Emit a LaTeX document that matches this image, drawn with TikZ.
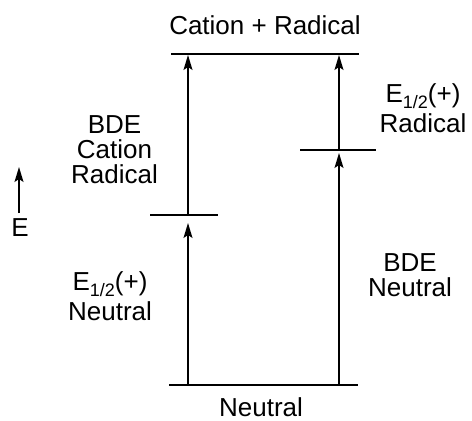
\documentclass[tikz,border=0pt]{standalone}
\usepackage{fontspec}
\setmainfont{Liberation Sans}
\usetikzlibrary{arrows.meta}
\newcommand\myhalf{\smash{\raisebox{-6.5pt}{\fontsize{18}{18}\selectfont 1/2}}}
\begin{document}
\begin{tikzpicture}[x=1pt,y=-1pt,
  level/.style={line width=1.4pt},
  uparrow/.style={line width=1.4pt,-{Stealth[length=15pt,width=9pt,inset=3pt]}},
  lbl/.style={font=\fontsize{26}{25}\selectfont, inner sep=0pt, align=center}]
\useasboundingbox (0,0) rectangle (472,421);
% levels
\coordinate (topL) at (171,54);   \coordinate (topR) at (359,54);
\coordinate (botL) at (169,385);  \coordinate (botR) at (358,385);
\coordinate (mlL) at (150,215);   \coordinate (mlR) at (218,215);
\coordinate (mrL) at (300,150);   \coordinate (mrR) at (376,150);
\draw[level] (topL) -- (topR);
\draw[level] (botL) -- (botR);
\draw[level] (mlL) -- (mlR);
\draw[level] (mrL) -- (mrR);
% arrow end points
\coordinate (a0) at (188,385); \coordinate (a1) at (188,223);
\coordinate (a2) at (188,215); \coordinate (a3) at (188,55);
\coordinate (b0) at (339,385); \coordinate (b1) at (339,153);
\coordinate (b2) at (339,150); \coordinate (b3) at (339,55);
\coordinate (e0) at (19,213); \coordinate (e1) at (19,167);
\draw[uparrow] (a0) -- (a1);
\draw[uparrow] (a2) -- (a3);
\draw[uparrow] (b0) -- (b1);
\draw[uparrow] (b2) -- (b3);
\draw[uparrow] (e0) -- (e1);
% labels
\node[lbl, anchor=base] (cr) at (265,34) {Cation + Radical};
\node[lbl, anchor=base] (nt) at (261,416) {Neutral};
\node[lbl, anchor=north] (bcr) at (114.5,115) {BDE\\Cation\\Radical};
\node[lbl, anchor=north] (en) at (110,271) {E\myhalf(+)\\[5pt]Neutral};
\node[lbl, anchor=north] (er) at (423,83) {E\myhalf(+)\\[5pt]Radical};
\node[lbl, anchor=north] (bn) at (410,253) {BDE\\Neutral};
\node[lbl, anchor=north] (E) at (20,218) {E};
\end{tikzpicture}
\end{document}
